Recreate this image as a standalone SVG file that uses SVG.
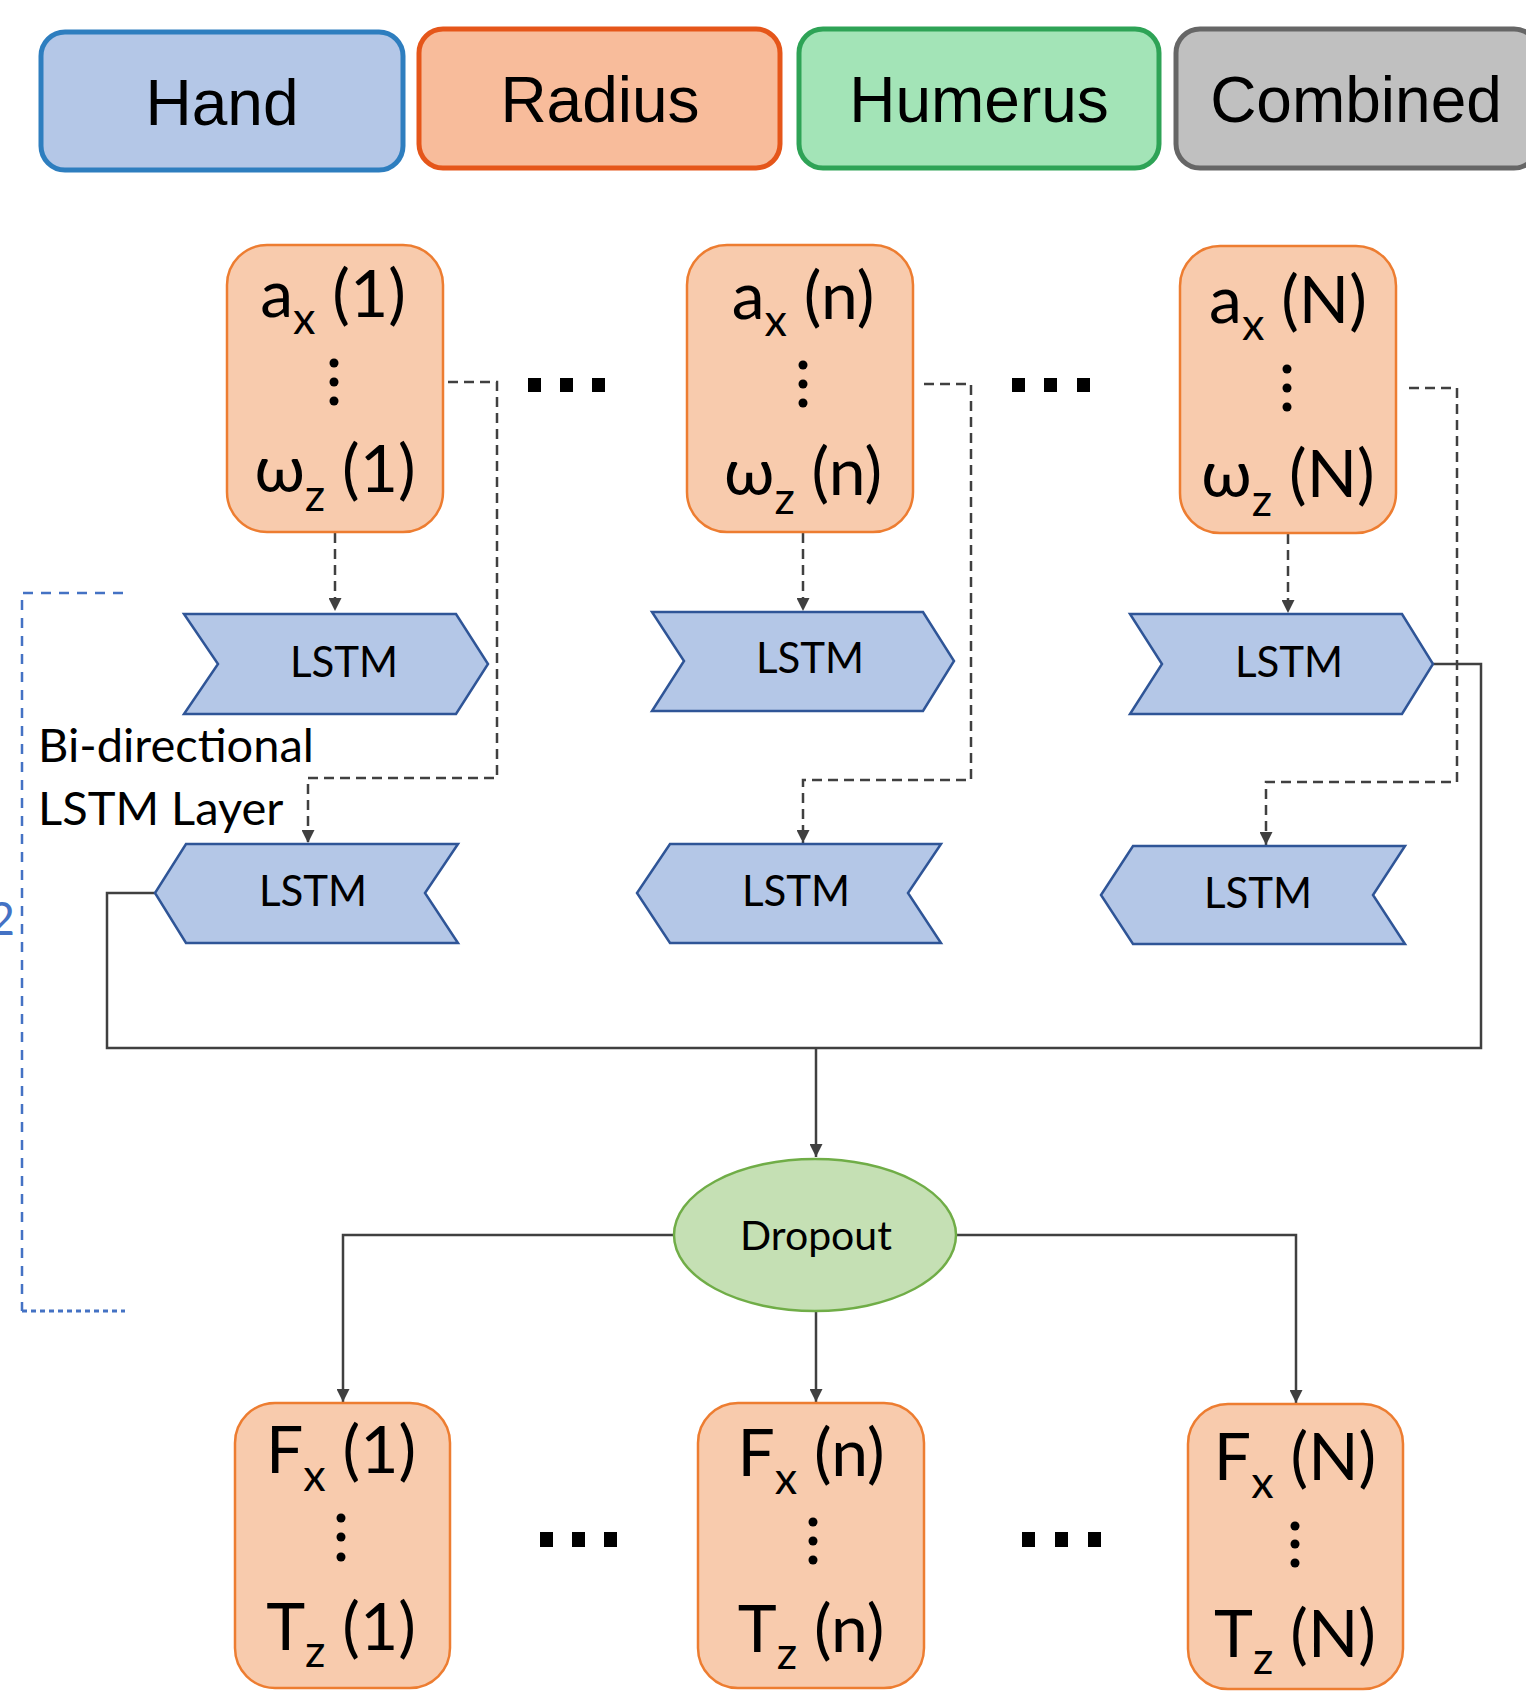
<svg xmlns="http://www.w3.org/2000/svg" width="1526" height="1694" viewBox="0 0 1526 1694">
  <defs>
    <marker id="arrow" viewBox="0 0 10 10" refX="10" refY="5" markerUnits="userSpaceOnUse" markerWidth="15" markerHeight="13" orient="auto">
      <path d="M0,0 L10,5 L0,10 z" fill="#404040"/>
    </marker>
    <style>
      .legend text { font-family: "Liberation Sans", Arial, sans-serif; font-size: 64px; text-anchor: middle; fill: #000; }
      .io rect { fill: #F8CBAD; stroke: #ED7D31; stroke-width: 2.5; }
      .io text { font-family: Lato, "Noto Sans", sans-serif; font-size: 66px; text-anchor: middle; fill: #000; }
      .io .sub { font-size: 45px; }
      .io circle { fill: #000; }
      .lstm polygon { fill: #B4C7E7; stroke: #2F5597; stroke-width: 2.5; stroke-linejoin: miter; }
      .lstm text { font-family: Lato, "Noto Sans", sans-serif; font-size: 42px; text-anchor: middle; fill: #000; }
      .label { font-family: Lato, "Noto Sans", sans-serif; font-size: 47px; fill: #000; }
      .dash { fill: none; stroke: #404040; stroke-width: 2.5; stroke-dasharray: 10 6; }
      .solid { fill: none; stroke: #404040; stroke-width: 2.5; }
      .dots rect { fill: #000; }
    </style>
  </defs>
  <rect width="1526" height="1694" fill="#fff"/>

  <!-- legend -->
  <g id="legend-hand" class="legend">
    <rect x="41" y="32" width="362" height="138" rx="24" fill="#B4C7E7" stroke="#2E7EBF" stroke-width="5"/>
    <text x="222" y="125">Hand</text>
  </g>
  <g id="legend-radius" class="legend">
    <rect x="419" y="29" width="361" height="139" rx="24" fill="#F8BC9B" stroke="#E5561A" stroke-width="5"/>
    <text x="600" y="122">Radius</text>
  </g>
  <g id="legend-humerus" class="legend">
    <rect x="799" y="29" width="360" height="139" rx="24" fill="#A3E4B7" stroke="#2EA356" stroke-width="5"/>
    <text x="979" y="122">Humerus</text>
  </g>
  <g id="legend-combined" class="legend">
    <rect x="1176" y="29" width="362" height="139" rx="24" fill="#C0C0C0" stroke="#666666" stroke-width="5"/>
    <text x="1356" y="122">Combined</text>
  </g>

  <!-- bracket around the bi-directional layer -->
  <g id="layer-bracket">
    <path d="M123,593 H22 V1311" fill="none" stroke="#4472C4" stroke-width="2.5" stroke-dasharray="10 8"/>
    <path d="M22,1311 H125" fill="none" stroke="#4472C4" stroke-width="3" stroke-dasharray="5 4"/>
    <text x="15" y="935" text-anchor="end" font-family="Lato, 'Noto Sans', sans-serif" font-size="46" fill="#4472C4">2</text>
  </g>

  <!-- connectors -->
  <g id="connectors">
    <path class="dash" d="M335,533 V611" marker-end="url(#arrow)"/>
    <path class="dash" d="M803,533 V611" marker-end="url(#arrow)"/>
    <path class="dash" d="M1288,534 V613" marker-end="url(#arrow)"/>
    <path class="dash" d="M448,382 H497 V778 H308 V843" marker-end="url(#arrow)"/>
    <path class="dash" d="M924,384 H971 V780 H803 V843" marker-end="url(#arrow)"/>
    <path class="dash" d="M1409,388 H1457 V782 H1266 V845" marker-end="url(#arrow)"/>
    <path class="solid" d="M155,893 H107 V1048 H1481 V664 H1433"/>
    <path class="solid" d="M816,1048 V1157" marker-end="url(#arrow)"/>
    <path class="solid" d="M674,1235 H343 V1402" marker-end="url(#arrow)"/>
    <path class="solid" d="M816,1311 V1402" marker-end="url(#arrow)"/>
    <path class="solid" d="M957,1235 H1296 V1403" marker-end="url(#arrow)"/>
  </g>

  <!-- input nodes -->
  <g id="input-1" class="io">
    <rect x="227" y="245" width="216" height="287" rx="40"/>
    <text x="333" y="317">a<tspan class="sub" dy="17">x</tspan><tspan dy="-17"> (1)</tspan></text>
    <circle cx="334" cy="363" r="4.5"/><circle cx="334" cy="382" r="4.5"/><circle cx="334" cy="401" r="4.5"/>
    <text x="335" y="492">ω<tspan class="sub" dy="19">z</tspan><tspan dy="-19"> (1)</tspan></text>
  </g>
  <g id="input-n" class="io">
    <rect x="687" y="245" width="226" height="287" rx="40"/>
    <text x="803" y="319">a<tspan class="sub" dy="17">x</tspan><tspan dy="-17"> (n)</tspan></text>
    <circle cx="803" cy="365" r="4.5"/><circle cx="803" cy="384" r="4.5"/><circle cx="803" cy="403" r="4.5"/>
    <text x="803" y="495">ω<tspan class="sub" dy="19">z</tspan><tspan dy="-19"> (n)</tspan></text>
  </g>
  <g id="input-N" class="io">
    <rect x="1180" y="246" width="216" height="287" rx="40"/>
    <text x="1288" y="323">a<tspan class="sub" dy="17">x</tspan><tspan dy="-17"> (N)</tspan></text>
    <circle cx="1287" cy="369" r="4.5"/><circle cx="1287" cy="388" r="4.5"/><circle cx="1287" cy="407" r="4.5"/>
    <text x="1288" y="497">ω<tspan class="sub" dy="19">z</tspan><tspan dy="-19"> (N)</tspan></text>
  </g>

  <!-- horizontal ellipses between columns -->
  <g id="ellipsis-top" class="dots">
    <rect x="528" y="378" width="13" height="14"/><rect x="560" y="378" width="13" height="14"/><rect x="592" y="378" width="13" height="14"/>
    <rect x="1012" y="378" width="13" height="14"/><rect x="1044" y="378" width="13" height="14"/><rect x="1077" y="378" width="13" height="14"/>
  </g>

  <!-- forward LSTM cells -->
  <g id="lstm-fwd-1" class="lstm">
    <polygon points="184,614 456,614 488,664 456,714 184,714 218,664"/>
    <text x="344" y="677">LSTM</text>
  </g>
  <g id="lstm-fwd-n" class="lstm">
    <polygon points="652,612 923,612 954,661 923,711 652,711 684,661"/>
    <text x="810" y="673">LSTM</text>
  </g>
  <g id="lstm-fwd-N" class="lstm">
    <polygon points="1130,614 1402,614 1433,664 1402,714 1130,714 1162,664"/>
    <text x="1289" y="677">LSTM</text>
  </g>

  <!-- backward LSTM cells -->
  <g id="lstm-bwd-1" class="lstm">
    <polygon points="186,844 458,844 425,893 458,943 186,943 155,893"/>
    <text x="313" y="906">LSTM</text>
  </g>
  <g id="lstm-bwd-n" class="lstm">
    <polygon points="670,844 941,844 908,893 941,943 670,943 637,893"/>
    <text x="796" y="906">LSTM</text>
  </g>
  <g id="lstm-bwd-N" class="lstm">
    <polygon points="1133,846 1405,846 1373,895 1405,944 1133,944 1101,895"/>
    <text x="1258" y="908">LSTM</text>
  </g>

  <g id="layer-label">
    <text class="label" x="38" y="762">Bi-directional</text>
    <text class="label" x="38" y="825">LSTM Layer</text>
  </g>

  <!-- dropout -->
  <g id="dropout">
    <ellipse cx="815" cy="1235" rx="141" ry="76" fill="#C5E0B4" stroke="#70AD47" stroke-width="2.5"/>
    <text x="816" y="1250" text-anchor="middle" font-family="Lato, 'Noto Sans', sans-serif" font-size="41">Dropout</text>
  </g>

  <!-- output nodes -->
  <g id="output-1" class="io">
    <rect x="235" y="1403" width="215" height="285" rx="40"/>
    <text x="341" y="1473">F<tspan class="sub" dy="18">x</tspan><tspan dy="-18"> (1)</tspan></text>
    <circle cx="341" cy="1518" r="4.5"/><circle cx="341" cy="1537" r="4.5"/><circle cx="341" cy="1557" r="4.5"/>
    <text x="341" y="1650">T<tspan class="sub" dy="17">z</tspan><tspan dy="-17"> (1)</tspan></text>
  </g>
  <g id="output-n" class="io">
    <rect x="698" y="1403" width="226" height="285" rx="40"/>
    <text x="811" y="1476">F<tspan class="sub" dy="18">x</tspan><tspan dy="-18"> (n)</tspan></text>
    <circle cx="813" cy="1522" r="4.5"/><circle cx="813" cy="1541" r="4.5"/><circle cx="813" cy="1560" r="4.5"/>
    <text x="811" y="1652">T<tspan class="sub" dy="17">z</tspan><tspan dy="-17"> (n)</tspan></text>
  </g>
  <g id="output-N" class="io">
    <rect x="1188" y="1404" width="215" height="285" rx="40"/>
    <text x="1295" y="1480">F<tspan class="sub" dy="18">x</tspan><tspan dy="-18"> (N)</tspan></text>
    <circle cx="1295" cy="1526" r="4.5"/><circle cx="1295" cy="1544" r="4.5"/><circle cx="1295" cy="1563" r="4.5"/>
    <text x="1295" y="1657">T<tspan class="sub" dy="17">z</tspan><tspan dy="-17"> (N)</tspan></text>
  </g>

  <g id="ellipsis-bottom" class="dots">
    <rect x="540" y="1532" width="13" height="15"/><rect x="572" y="1532" width="13" height="15"/><rect x="604" y="1532" width="13" height="15"/>
    <rect x="1022" y="1532" width="13" height="15"/><rect x="1055" y="1532" width="13" height="15"/><rect x="1088" y="1532" width="13" height="15"/>
  </g>
</svg>
